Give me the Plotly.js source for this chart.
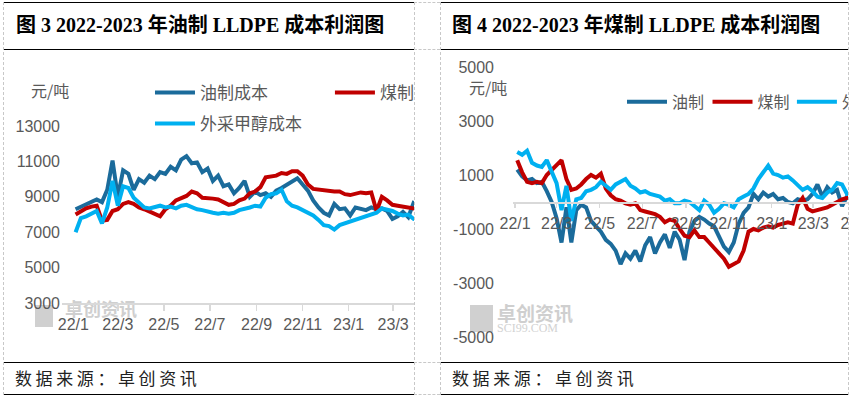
<!DOCTYPE html>
<html>
<head>
<meta charset="utf-8">
<script src="https://cdn.plot.ly/plotly-3.0.1.min.js"></script>
<style>
  html, body { margin:0; padding:0; background:#fff; }
  body { width:853px; height:397px; position:relative; overflow:hidden; }
  .solid { position:absolute; height:0; border-top:1.5px solid #000; }
  .dash-h { position:absolute; height:0; border-top:1px dashed #c8c8c8; }
  .dash-v { position:absolute; width:0; border-left:1px dashed #c8c8c8; }
  .title { position:absolute; font-family:"Liberation Serif","Noto Sans CJK SC",serif; font-weight:bold; font-size:20px; color:#000; white-space:nowrap; line-height:24px; }
  .src { position:absolute; font-family:"Noto Sans CJK SC",sans-serif; font-size:17px; color:#222; letter-spacing:3.6px; white-space:nowrap; line-height:22px; }
  .clip { position:absolute; overflow:hidden; }
  .wm { position:absolute; font-family:"Noto Sans CJK SC",sans-serif; font-weight:bold; color:#cfcfcf; white-space:nowrap; line-height:22px; }
  .wm2 { position:absolute; font-family:"Liberation Serif",serif; color:#d2d2d2; font-size:12px; white-space:nowrap; line-height:14px; }
  .logo { position:absolute; background:#d0d0d0; }
</style>
</head>
<body>
<!-- table frame -->
<div class="solid" style="left:3px;width:411px;top:2px;"></div>
<div class="solid" style="left:440px;width:408px;top:2px;"></div>
<div class="solid" style="left:3px;width:411px;top:48.5px;"></div>
<div class="solid" style="left:440px;width:408px;top:48.5px;"></div>
<div class="solid" style="left:3px;width:411px;top:361.5px;"></div>
<div class="solid" style="left:440px;width:408px;top:361.5px;"></div>
<div class="solid" style="left:3px;width:411px;top:394px;"></div>
<div class="solid" style="left:440px;width:408px;top:394px;"></div>
<div class="dash-h" style="left:414px;width:26px;top:2px;"></div>
<div class="dash-h" style="left:414px;width:26px;top:49px;"></div>
<div class="dash-h" style="left:414px;width:26px;top:362px;"></div>
<div class="dash-h" style="left:414px;width:26px;top:394px;"></div>
<div class="dash-v" style="left:3px;top:2px;height:393px;"></div>
<div class="dash-v" style="left:414px;top:2px;height:393px;"></div>
<div class="dash-v" style="left:440px;top:2px;height:393px;"></div>
<div class="dash-v" style="left:848px;top:2px;height:393px;"></div>

<div class="title" style="left:16px;top:13px;">图 3 2022-2023 年油制 LLDPE 成本利润图</div>
<div class="title" style="left:452px;top:13px;">图 4 2022-2023 年煤制 LLDPE 成本利润图</div>
<div class="src" style="left:15px;top:367px;">数据来源：卓创资讯</div>
<div class="src" style="left:452px;top:367px;">数据来源：卓创资讯</div>

<!-- watermarks (behind charts) -->
<div class="logo" style="left:35px;top:305px;width:18px;height:22px;"></div>
<div class="wm" style="left:65px;top:297px;font-size:18px;">卓创资讯</div>
<div class="logo" style="left:470px;top:305px;width:23px;height:27px;"></div>
<div class="wm" style="left:497px;top:302px;font-size:19px;">卓创资讯</div>
<div class="wm2" style="left:497px;top:321px;">SCI99.COM</div>

<div class="clip" style="left:4px;top:50px;width:410px;height:311px;"><div id="c1" style="width:520px;height:311px;"></div></div>
<div class="clip" style="left:441px;top:50px;width:407px;height:311px;"><div id="c2" style="width:520px;height:311px;"></div></div>

<script>
// ---------- data ----------
var dates = ["2022-01-04","2022-01-11","2022-01-18","2022-01-25","2022-02-01","2022-02-08","2022-02-15","2022-02-22",
"2022-03-01","2022-03-08","2022-03-15","2022-03-22","2022-03-29","2022-04-05","2022-04-12","2022-04-19","2022-04-26",
"2022-05-03","2022-05-10","2022-05-17","2022-05-24","2022-05-31","2022-06-07","2022-06-14","2022-06-21","2022-06-28",
"2022-07-05","2022-07-12","2022-07-19","2022-07-26","2022-08-02","2022-08-09","2022-08-16","2022-08-23","2022-08-30",
"2022-09-06","2022-09-13","2022-09-20","2022-09-27","2022-10-04","2022-10-11","2022-10-18","2022-10-25",
"2022-11-01","2022-11-08","2022-11-15","2022-11-22","2022-11-29","2022-12-06","2022-12-13","2022-12-20","2022-12-27",
"2023-01-03","2023-01-10","2023-01-17","2023-01-24","2023-01-31","2023-02-07","2023-02-14","2023-02-21","2023-02-28",
"2023-03-07","2023-03-14","2023-03-21","2023-03-28","2023-04-04","2023-04-11","2023-04-18","2023-04-25"];

// Fig 3: cost (元/吨)
var oilCost = [8300,8450,8550,8700,8850,8700,9400,11050,9000,10500,10300,9400,10000,9800,10200,10000,10400,10300,10700,10500,
11100,11300,10900,10950,10400,10600,9900,10200,9600,9700,9200,9500,9900,9000,9300,9100,9200,9000,9350,9500,
9700,9850,10050,9700,9350,8800,8400,8100,7950,8600,8300,8350,7950,8400,8350,8250,8400,8300,8350,8200,
7750,7900,8150,7850,8650,8500];
var coalCost = [8000,8200,8350,8450,8500,7650,7700,8200,8300,8600,8700,8600,8400,8300,8150,8000,7900,8300,8500,8800,
8900,9050,9300,9200,8950,8950,8900,8850,8700,8550,8600,8800,8900,9200,9300,9550,10100,10150,10200,10350,
10300,10450,10450,10200,9700,9450,9400,9400,9350,9300,9300,9150,9100,9200,9250,9200,9250,8200,9000,8800,
8550,8500,8450,8400,8350,8300];
var methanolCost = [7000,7800,7900,8050,8200,7500,8400,9900,8500,9600,9500,8950,8700,8400,8350,8450,8500,8400,8450,8350,
8500,8550,8400,8300,8250,8150,8100,8050,8100,8050,8100,8250,8300,8400,8500,8450,8950,9150,9200,9400,
8750,8500,8400,8250,8100,7950,7700,7400,7350,7150,7400,7500,7600,7650,7750,7900,8000,8100,8350,8300,
8200,8050,7950,8000,7750,7700];

// Fig 4: profit (元/吨)
var oilProfit = [1200,950,800,850,700,750,400,0,-600,-1500,-200,-1500,-300,-100,-200,-700,-900,-1100,-1400,-1550,
-1800,-2300,-1900,-2100,-1800,-2200,-1600,-1300,-1900,-1500,-1200,-1700,-1100,-1400,-2150,-1100,-700,-550,-650,-800,
-900,-1300,-1650,-1850,-1500,-800,-400,-200,300,100,350,200,300,100,150,0,-50,100,50,100,
300,650,200,550,350,450,-150,200,300];
var coalProfit = [1550,1100,750,700,750,700,1000,1200,1350,1550,850,450,500,650,850,1000,900,1050,500,250,
100,50,-50,-100,-50,-300,-350,-400,-450,-550,-750,-650,-700,-1000,-1250,-1300,-1050,-1300,-1300,-1500,
-1700,-1900,-2100,-2400,-2300,-2200,-1800,-1100,-1000,-1050,-950,-900,-950,-850,-800,-750,-800,-100,150,-250,
-350,-300,-250,-200,-100,0,100,150,250];
var methanolProfit = [1850,1750,1900,1450,1350,1300,1550,1100,700,-300,600,-700,100,150,400,450,550,750,600,450,
650,750,850,600,500,350,400,300,250,200,50,100,-50,-50,50,0,-150,-300,50,-100,
-400,-250,-50,-100,-200,100,200,300,500,850,1100,1350,1050,1000,900,950,800,600,450,550,
400,200,150,350,450,700,650,300,350];

var names1 = ["油制成本","煤制成本","外采甲醇成本"];
var names2 = ["油制","煤制","外采甲醇"];
var colors = ["#1b6b9b","#c00000","#00b0f0"];
var ticks1 = [3000,5000,7000,9000,11000,13000];
var ticks2 = [-5000,-3000,-1000,1000,3000,5000];

var tickFont = {family:"Liberation Sans, Arial, sans-serif", size:16, color:"#595959"};
var cjkFont = {family:"Noto Sans CJK SC, sans-serif", size:16, color:"#595959"};

function mk(x, y, name, color, legend) {
  return {type:"scatter", mode:"lines", x:x, y:y, name:name, legend:legend,
          line:{color:color, width:4}, hoverinfo:"skip"};
}
function lg(x, y, size) {
  return {orientation:"h", x:x, xanchor:"left", y:y, yanchor:"top",
          font:{family:"Noto Sans CJK SC, sans-serif", size:size, color:"#595959"},
          itemwidth:40, bgcolor:"rgba(0,0,0,0)", borderwidth:0};
}

// ---------- chart 1 ----------
var d1 = dates.slice(0, oilCost.length);
var t1 = [mk(d1, oilCost, names1[0], colors[0], "legend"), mk(d1, coalCost, names1[1], colors[1], "legend2"),
          mk(d1, methanolCost, names1[2], colors[2], "legend3")];
var l1 = {
  width:520, height:311, margin:{l:58, r:72, t:23, b:58},
  paper_bgcolor:"rgba(0,0,0,0)", plot_bgcolor:"rgba(0,0,0,0)",
  showlegend:true,
  legend:lg(0.2256, 0.991, 17), legend2:lg(0.687, 0.991, 17), legend3:lg(0.2256, 0.857, 17),
  xaxis:{type:"date", range:["2021-12-17","2023-05-18"], dtick:"M2", tick0:"2022-01-01", tickformat:"%y/%-m",
         showgrid:false, zeroline:false, showline:true, linecolor:"#d9d9d9", linewidth:1.5,
         ticks:"outside", ticklen:6, tickcolor:"#d9d9d9", tickwidth:1.5, tickfont:tickFont, fixedrange:true},
  yaxis:{range:[3000,16000], tickvals:ticks1, ticktext:ticks1.map(String), showgrid:false, zeroline:false, showline:false, ticks:"",
         tickfont:tickFont, ticklabelstandoff:1, fixedrange:true},
  annotations:[{xref:"paper", yref:"paper", x:-0.031, y:0.926, xanchor:"center", yanchor:"middle",
                text:"元/吨", showarrow:false, font:cjkFont}]
};
Plotly.newPlot("c1", t1, l1, {staticPlot:true, displayModeBar:false});

// ---------- chart 2 ----------
var d2 = dates.slice(0, oilProfit.length);
var t2 = [mk(d2, oilProfit, names2[0], colors[0], "legend"), mk(d2, coalProfit, names2[1], colors[1], "legend2"),
          mk(d2, methanolProfit, names2[2], colors[2], "legend3")];
var l2 = {
  width:520, height:311, margin:{l:72, r:81, t:17, b:24},
  paper_bgcolor:"rgba(0,0,0,0)", plot_bgcolor:"rgba(0,0,0,0)",
  showlegend:true,
  legend:lg(0.297, 0.934, 16), legend2:lg(0.530, 0.934, 16), legend3:lg(0.760, 0.934, 16),
  xaxis:{type:"date", range:["2021-12-29","2023-06-04"], dtick:"M2", tick0:"2022-01-01", tickformat:"%y/%-m",
         anchor:"free", position:0.5,
         showgrid:false, zeroline:false, showline:true, linecolor:"#d9d9d9", linewidth:1.5,
         ticks:"outside", ticklen:4, tickcolor:"#d9d9d9", tickwidth:1.5, tickfont:tickFont,
         ticklabelstandoff:2, fixedrange:true},
  yaxis:{range:[-5000,5000], tickvals:ticks2, ticktext:ticks2.map(String), showgrid:false, zeroline:false, showline:false, ticks:"",
         tickfont:tickFont, ticklabelstandoff:18, fixedrange:true},
  annotations:[{xref:"paper", yref:"paper", x:-0.068, y:0.926, xanchor:"center", yanchor:"middle",
                text:"元/吨", showarrow:false, font:cjkFont}]
};
Plotly.newPlot("c2", t2, l2, {staticPlot:true, displayModeBar:false});
</script>
</body>
</html>
